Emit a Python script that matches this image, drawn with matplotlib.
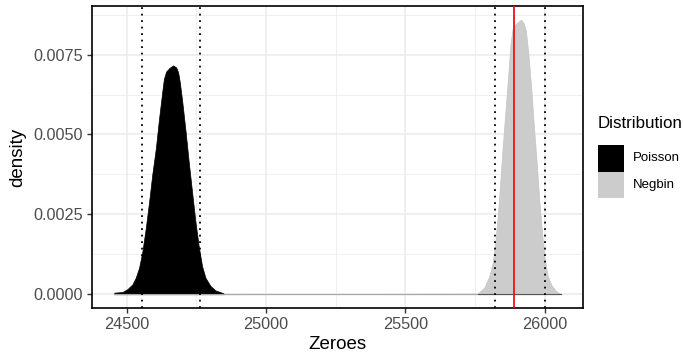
import matplotlib
matplotlib.use("Agg")
import matplotlib.pyplot as plt
from matplotlib.patches import Rectangle
import numpy as np

plt.rcParams['font.family'] = ['Liberation Sans', 'DejaVu Sans']

# Poisson density (x, density)
pois_x = [24455, 24484, 24502, 24520, 24532, 24544, 24556, 24568, 24580, 24591,
          24604, 24615, 24627, 24633, 24641, 24654, 24666, 24677, 24684, 24690,
          24699, 24711, 24722, 24734, 24746, 24758, 24770, 24782, 24800, 24818,
          24847]
pois_d = [0.00005, 0.00007, 0.00016, 0.00031, 0.00052, 0.00083, 0.00135, 0.00207,
          0.0029, 0.00373, 0.00456, 0.00545, 0.00633, 0.00674, 0.00697, 0.00709,
          0.00716, 0.0071, 0.00695, 0.00664, 0.00602, 0.00508, 0.00415, 0.00321,
          0.00228, 0.0015, 0.00088, 0.00052, 0.00026, 0.00012, 0.00003]

# Negbin density (x, density); begins with its flat low tail
neg_x = [24847, 25759, 25783, 25801, 25813, 25822, 25831, 25839, 25848, 25858,
         25868, 25877, 25884, 25896, 25906, 25915, 25923, 25932, 25941, 25951,
         25960, 25970, 25979, 25989, 25998, 26010, 26025, 26041, 26057]
neg_d = [0.0, 0.00002, 0.00021, 0.00057, 0.00099, 0.00161, 0.00244, 0.00337,
         0.00451, 0.00565, 0.00679, 0.00783, 0.0083, 0.00846, 0.00853, 0.00859,
         0.0085, 0.00825, 0.00752, 0.00648, 0.00534, 0.0042, 0.00306, 0.00202,
         0.00119, 0.00057, 0.00026, 0.0001, 0.0]

interval_lines = [24553, 24763, 25822, 26001]
observed = 25890

x_ticks = [24500, 25000, 25500, 26000]
y_ticks = [0.0, 0.0025, 0.005, 0.0075]
y_labels = ["0.0000", "0.0025", "0.0050", "0.0075"]

legend_labels = ["Poisson", "Negbin"]
legend_colors = ["black", "#cccccc"]

W, H = 683, 361
fig = plt.figure(figsize=(W/100, H/100), dpi=100)
ax = fig.add_axes([92/W, 1-308/H, (583-92)/W, (308-6)/H])

ax.fill_between(pois_x, 0, pois_d, facecolor='black', edgecolor='black',
                linewidth=0.5, zorder=3)
ax.fill_between(neg_x, 0, neg_d, facecolor='#cccccc', edgecolor='#c4c4c4',
                linewidth=0.5, zorder=4)
ax.plot([pois_x[0], neg_x[-1]], [0, 0], color='#a8a8a8', linewidth=0.8, zorder=4.5)
ax.plot([neg_x[1], neg_x[-1]], [0, 0], color='#555555', linewidth=0.8, zorder=4.6)

for v in interval_lines:
    ax.axvline(v, color='black', linestyle=(0, (1, 2.6)), linewidth=1.3, zorder=5)
ax.axvline(observed, color='#ee1111', linewidth=1.3, zorder=6)

ax.set_xlim(24375, 26137)
ax.set_ylim(-0.00043, 0.00902)
ax.set_xticks(x_ticks)
ax.set_xticklabels([str(t) for t in x_ticks])
ax.set_yticks(y_ticks)
ax.set_yticklabels(y_labels)
ax.set_xticks([24750, 25250, 25750], minor=True)
ax.set_yticks([0.00125, 0.00375, 0.00625, 0.00875], minor=True)
ax.grid(True, which='major', color='#ebebeb', linewidth=1.1, zorder=0)
ax.grid(True, which='minor', color='#ebebeb', linewidth=0.55, zorder=0)
ax.set_axisbelow(True)
ax.tick_params(which='major', length=3.5, width=1.0, color='#333333',
               labelsize=11.7, labelcolor='#4d4d4d', pad=3)
ax.tick_params(which='minor', length=0)
for s in ax.spines.values():
    s.set_color('black')
    s.set_linewidth(1.2)

ax.set_xlabel('Zeroes', fontsize=13.5, labelpad=3)
ax.set_ylabel('density', fontsize=13.5, labelpad=5)

# legend drawn in figure pixel coordinates
def fx(px):
    return px / W

def fy(py):
    return 1 - py / H

fig.text(fx(598), fy(116), 'Distribution', fontsize=12.2, ha='left', va='top')
key_top = 145
key_h = 26.5
for i, (lab, col) in enumerate(zip(legend_labels, legend_colors)):
    top = key_top + i * key_h
    fig.patches.append(Rectangle((fx(598), fy(top + key_h)), 26/W, key_h/H,
                                 facecolor=col, edgecolor='none',
                                 transform=fig.transFigure, figure=fig))
    fig.text(fx(633), fy(top + key_h/2), lab, fontsize=9.5, ha='left', va='center')

fig.savefig('out.png', dpi=100)
